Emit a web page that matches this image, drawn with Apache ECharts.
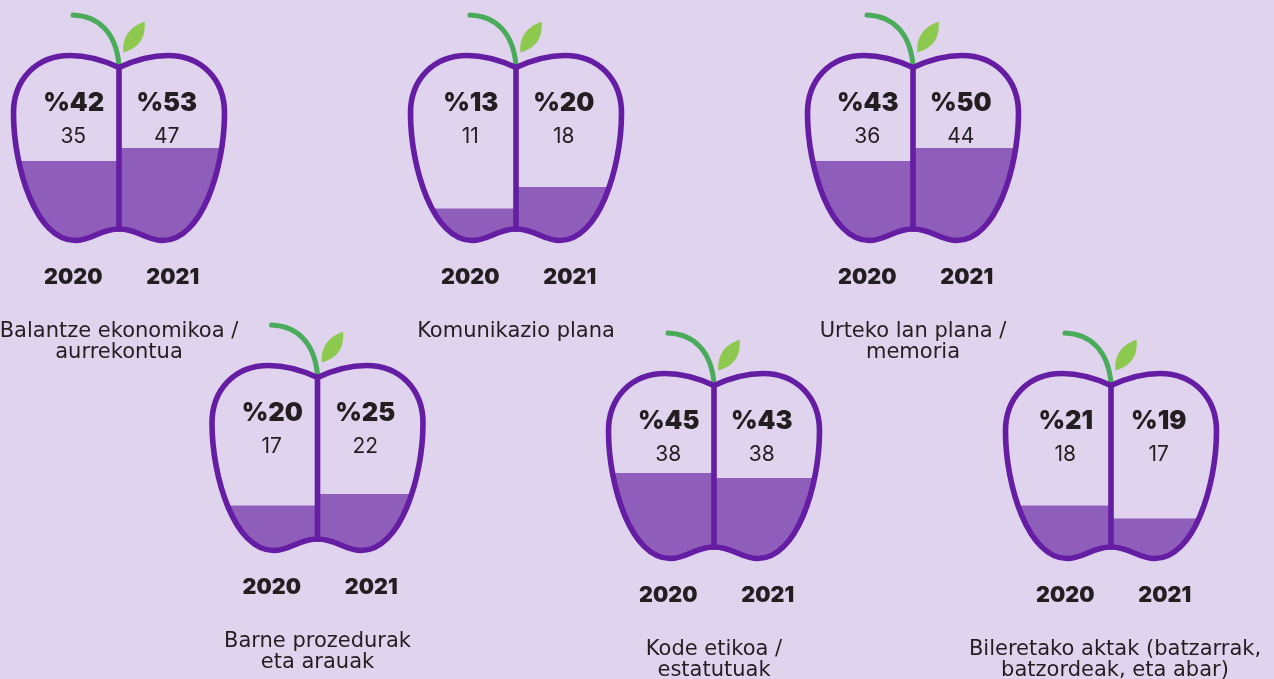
<!DOCTYPE html>
<html><head><meta charset="utf-8">
<style>html,body{margin:0;padding:0;background:#e0d3ee}#c{width:1274px;height:679px}</style>
<script src="https://cdn.jsdelivr.net/npm/echarts@6/dist/echarts.min.js"></script>
</head><body><div id="c"></div>
<script>
// ---- data ----
const years = ['2020', '2021'];
const titles = [
  'Balantze ekonomikoa /\naurrekontua',
  'Komunikazio plana',
  'Urteko lan plana /\nmemoria',
  'Barne prozedurak\neta arauak',
  'Kode etikoa /\nestatutuak',
  'Bileretako aktak (batzarrak,\nbatzordeak, eta abar)'
];
const pct2020 = [42, 13, 43, 20, 45, 21];
const pct2021 = [53, 20, 50, 25, 43, 19];
const count2020 = [35, 11, 36, 17, 38, 18];
const count2021 = [47, 18, 44, 22, 38, 17];
// liquid level in each half, as % of the apple's height
const fill2020 = [43.0, 17.3, 43.0, 24.3, 46.2, 28.6];
const fill2021 = [50.0, 28.9, 50.0, 30.5, 43.5, 21.6];

// ---- layout ----
const origins = [[13.5, 55.5], [410.5, 55.5], [807.5, 55.5], [212, 365.5], [608.5, 373.5], [1005.5, 373.5]];
const titleOffset = [0, 0, 0, 0, 0, 4];
const W = 211, H = 185;
const FONT = 'Inter', TITLE_FONT = 'DejaVu Sans';
const INK = '#231f20', PURPLE = '#641da3', LIQUID = '#8f5ebb', STEM = '#4aab5a', LEAF = '#8dc94e';

const leftHalf = 'M105.5,12 C89.5,4.5 74.5,0 56.5,0 C22.5,0 0,24.5 0,57.5 C0,113 23,185 61.5,185 C78.5,185 86.5,173.5 105.5,173.5';
const rightHalf = 'M105.5,12 C121.5,4.5 136.5,0 154.5,0 C188.5,0 211,24.5 211,57.5 C211,113 188,185 149.5,185 C132.5,185 124.5,173.5 105.5,173.5';
const divider = 'M105.5,12 L105.5,173.5';
const stem = 'M59.5,-40.5 C84.5,-39.5 102.5,-23.5 105.5,9.5';
const leaf = 'M131.2,-33.8 C117.5,-29.5 108.5,-19.5 109.8,-3.2 C121.5,-6.5 132.5,-13.5 131.2,-33.8 Z';
const fillSymbols = ['path://' + leftHalf + ' Z', 'path://' + rightHalf + ' Z'];
const pctX = [7.5, -5], cntX = [7, -5], labelShift = [14, 2];

const grid = [], xAxis = [], yAxis = [], series = [], title = [];
origins.forEach((o, k) => {
  grid.push({ left: o[0], top: o[1], width: W, height: H });
  xAxis.push({
    type: 'category', gridIndex: k, data: years,
    axisLine: { show: false }, axisTick: { show: false }, splitLine: { show: false },
    axisLabel: {
      show: true, interval: 0, margin: 26,
      formatter: (v, i) => `{y${i}|${v}}`,
      rich: {
        y0: { fontFamily: FONT, fontWeight: 900, fontSize: 21.5, color: INK, padding: [0, 0, 0, labelShift[0]] },
        y1: { fontFamily: FONT, fontWeight: 900, fontSize: 21.5, color: INK, padding: [0, 0, 0, labelShift[1]] }
      }
    }
  });
  yAxis.push({ type: 'value', gridIndex: k, min: 0, max: 100, show: false });
  series.push({
    type: 'pictorialBar', xAxisIndex: k, yAxisIndex: k, z: 2, silent: true,
    barWidth: '100%', barCategoryGap: 0,
    symbolSize: ['100%', '100%'], symbolPosition: 'start', symbolClip: true, symbolBoundingData: 100,
    itemStyle: { color: LIQUID },
    data: [
      { value: fill2020[k], symbol: fillSymbols[0] },
      { value: fill2021[k], symbol: fillSymbols[1] }
    ]
  });
  series.push({
    type: 'custom', xAxisIndex: k, yAxisIndex: k, z: 3, silent: true, data: [[0, 0]],
    renderItem: (params) => {
      const cs = params.coordSys;
      const line = (d, color, w) => ({ type: 'path', shape: { pathData: d }, style: { fill: 'none', stroke: color, lineWidth: w, lineCap: 'round', lineJoin: 'round' } });
      return {
        type: 'group', x: cs.x, y: cs.y, children: [
          { type: 'path', shape: { pathData: leaf }, style: { fill: LEAF } },
          line(stem, STEM, 5),
          line(leftHalf, PURPLE, 5.6), line(rightHalf, PURPLE, 5.6), line(divider, PURPLE, 5.6)
        ]
      };
    }
  });
  series.push({
    type: 'custom', xAxisIndex: k, yAxisIndex: k, z: 4, silent: true,
    encode: { x: 0, y: 1 },
    data: [[0, pct2020[k], count2020[k]], [1, pct2021[k], count2021[k]]],
    renderItem: (params, api) => {
      const i = api.value(0), cx = api.coord([i, 0])[0], top = params.coordSys.y;
      return {
        type: 'group', children: [
          { type: 'text', style: { x: cx + pctX[i], y: top + 47.5, text: '%' + api.value(1), fill: INK, fontFamily: FONT, fontWeight: 900, fontSize: 25.5, align: 'center', verticalAlign: 'middle' } },
          { type: 'text', style: { x: cx + cntX[i], y: top + 81, text: String(api.value(2)), fill: INK, fontFamily: FONT, fontWeight: 400, fontSize: 21, align: 'center', verticalAlign: 'middle' } }
        ]
      };
    }
  });
  title.push({
    text: titles[k], left: o[0] + W / 2 + titleOffset[k], top: o[1] + 266, textAlign: 'center', padding: 0,
    textStyle: { fontFamily: TITLE_FONT, fontWeight: 400, fontSize: 21, color: INK, lineHeight: 21 }
  });
});

const chart = echarts.init(document.getElementById('c'), null, { renderer: 'canvas' });
chart.setOption({ backgroundColor: '#e0d3ee', animation: false, title, grid, xAxis, yAxis, series });
</script></body></html>
